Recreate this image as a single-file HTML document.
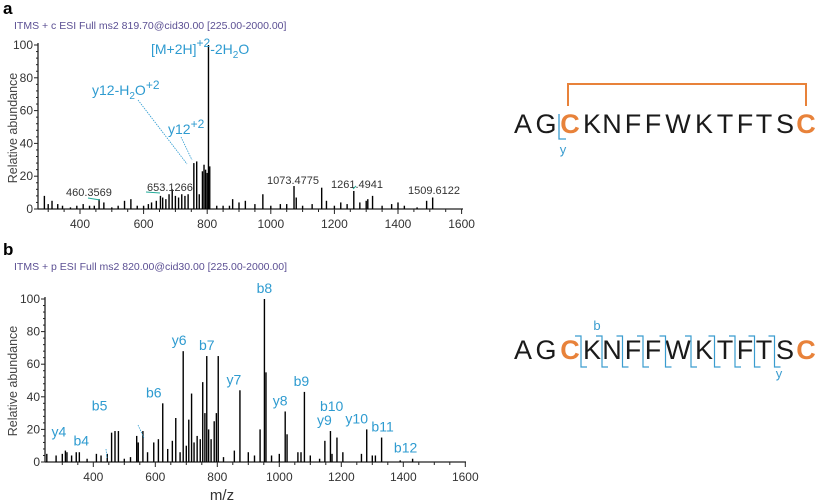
<!DOCTYPE html>
<html><head><meta charset="utf-8"><style>
body{margin:0;background:#fff}
svg{display:block;font-family:"Liberation Sans",sans-serif}
</style></head><body>
<svg id="fig" width="821" height="504" viewBox="0 0 821 504">
<text x="3" y="14" font-size="17" font-weight="bold" fill="#000">a</text>
<text x="14" y="29" font-size="10.5" fill="#5b4f93">ITMS + c ESI Full ms2 819.70@cid30.00 [225.00-2000.00]</text>
<text x="3" y="255" font-size="17" font-weight="bold" fill="#000">b</text>
<text x="14" y="270" font-size="10.5" fill="#5b4f93">ITMS + p ESI Full ms2 820.00@cid30.00 [225.00-2000.00]</text>
<text transform="translate(17,128) rotate(-90)" font-size="12.5" fill="#444" text-anchor="middle">Relative abundance</text>
<text transform="translate(17,381) rotate(-90)" font-size="12.5" fill="#444" text-anchor="middle">Relative abundance</text>
<g id="pa"></g>
<g id="pb"></g>
<text x="222" y="500" font-size="15" fill="#333" text-anchor="middle">m/z</text>

<g fill="#2e9bd0" font-size="14">
<text x="151" y="54">[M+2H]<tspan dy="-7" font-size="12">+2</tspan><tspan dy="7">-2H</tspan><tspan dy="4" font-size="10">2</tspan><tspan dy="-4">O</tspan></text>
<text x="92" y="95">y12-H<tspan dy="4" font-size="10">2</tspan><tspan dy="-4">O</tspan><tspan dy="-6" font-size="12">+2</tspan></text>
<text x="168" y="134">y12<tspan dy="-6" font-size="12">+2</tspan></text>
<line x1="138" y1="100" x2="187" y2="164" stroke="#2e9bd0" stroke-width="0.8" stroke-dasharray="1.5,1"/>
<line x1="181" y1="137" x2="192" y2="160" stroke="#2e9bd0" stroke-width="0.8" stroke-dasharray="1.5,1"/>
</g>
<g fill="#333" font-size="11">
<text x="66" y="196">460.3569</text>
<text x="147" y="191">653.1266</text>
<text x="267" y="184">1073.4775</text>
<text x="331" y="188">1261.4941</text>
<text x="408" y="194">1509.6122</text>
</g>
<g stroke="#2a9" stroke-width="1" fill="none"><line x1="88" y1="198" x2="100" y2="200"/><line x1="146" y1="192" x2="160" y2="193"/><line x1="353" y1="189" x2="356" y2="186"/></g>

<g id="seqa" font-size="27"></g>
<g id="seqb" font-size="27"></g>
<polyline points="568,106 568,84 806,84 806,106" fill="none" stroke="#e8823a" stroke-width="2"/>
<polyline points="559,114 559,139 566,139" fill="none" stroke="#3a9ccf" stroke-width="1.3"/>
<text x="563" y="154" font-size="13" fill="#3a9ccf" text-anchor="middle">y</text>
<g id="brk" fill="none" stroke="#3a9ccf" stroke-width="1.2"></g>
<text x="597" y="330" font-size="13" fill="#3a9ccf" text-anchor="middle">b</text>
<text x="779" y="378" font-size="13" fill="#3a9ccf" text-anchor="middle">y</text>
</svg>
<script>
const NS="http://www.w3.org/2000/svg";
const mzA=[288,300,312,330,345,370,390,410,430,445,460,475,500,520,540,560,580,600,615,625,640,653,660,670,680,690,700,710,720,730,740,758,767,775,785,790,795,800,804,808,830,850,870,880,900,920,950,975,1000,1030,1050,1073,1080,1100,1130,1160,1175,1200,1220,1240,1261,1280,1300,1305,1320,1350,1380,1400,1420,1460,1490,1509];
const intA=[8,3,5,3,2,1,2,3,2,2,6,4,1,2,5,6,2,2,3,4,5,8,7,6,9,12,8,7,9,8,9,28,29,9,23,27,24,22,100,26,2,2,2,6,4,5,3,9,2,3,3,14,7,2,3,13,5,2,4,3,11,4,5,6,8,2,3,4,2,1,5,7];
const mzB=[250,280,300,310,315,330,345,355,380,410,425,445,459,470,481,500,520,540,545,560,575,595,610,624,640,655,666,680,690,700,708,717,725,735,745,753,760,766,772,780,790,797,803,820,855,873,900,920,938,952,957,975,1000,1019,1025,1060,1070,1081,1100,1130,1147,1165,1170,1186,1205,1265,1282,1300,1310,1330,1390,1430];
const intB=[5,4,5,7,6,4,6,6,2,5,4,5,18,19,19,2,3,16,12,19,6,12,14,36,8,13,27,6,68,10,26,42,12,16,14,49,30,65,20,14,25,30,65,3,7,44,6,4,20,100,55,4,5,31,17,6,6,43,4,2,13,19,5,15,6,5,20,4,4,15,1,2];
const ticksX=[400,600,800,1000,1200,1400,1600];
const ticksY=[0,20,40,60,80,100];
const labelsB=["y4","b4","b5","b6","y6","b7","y7","b8","y8","b9","y9","b10","y10","b11","b12"];
const labelMzB=[315,345,459,624,690,766,873,952,1019,1081,1165,1172,1282,1330,1430];
const labelIntB=[7,7,18,36,68,65,44,100,31,43,19,19,20,15,2];

function mk(t,a,p){const e=document.createElementNS(NS,t);for(const k in a)e.setAttribute(k,a[k]);p.appendChild(e);return e;}
function panel(g,mz,it,ax){
  const X=m=>ax.x0+(m-400)*ax.k, Y=v=>ax.y0-(ax.y0-ax.y100)*v/100;
  const yax=mk('line',{x1:ax.left,y1:ax.y100-2,x2:ax.left,y2:ax.y0,stroke:'#222','stroke-width':1.3},g);
  
  
  const xax=mk('line',{x1:ax.left,y1:ax.y0,x2:ax.right,y2:ax.y0,stroke:'#222','stroke-width':1.3},g);
  
  
  for(let v=0;v<=100;v+=4){mk('line',{x1:ax.left-(v%20?2:4),y1:Y(v),x2:ax.left,y2:Y(v),stroke:'#222','stroke-width':1},g);}
  ticksY.forEach(v=>{const t=mk('text',{x:ax.left-5,y:Y(v)+4,'font-size':12,fill:'#333','text-anchor':'end'},g);t.textContent=v;
    
    });
  for(let m=300;m<=1600;m+=50){const x=X(m);if(x<ax.left||x>ax.right)continue;mk('line',{x1:x,y1:ax.y0,x2:x,y2:ax.y0+(m%200?3:5),stroke:'#222','stroke-width':1},g);}
  ticksX.forEach(m=>{const t=mk('text',{x:X(m),y:ax.y0+19,'font-size':12,fill:'#333','text-anchor':'middle'},g);t.textContent=m;
    
    });
  mz.forEach((m,i)=>{const l=mk('line',{x1:X(m),y1:ax.y0,x2:X(m),y2:Y(it[i]),stroke:'#000','stroke-width':1.4},g);
    
    });
  return {X,Y};
}
const A=panel(document.getElementById('pa'),mzA,intA,{x0:80,k:0.318,y0:209,y100:45,left:38,right:463});
const B=panel(document.getElementById('pb'),mzB,intB,{x0:93.3,k:0.310,y0:462,y100:299,left:45,right:466});
const gb=document.getElementById('pb');
const lx={"y4":-8,"b4":5,"b5":-12,"b6":-9,"y6":-4,"b7":0,"y7":-6,"b8":0,"y8":-5,"b9":-3,"y9":-6,"b10":-1,"y10":-10,"b11":1,"b12":-7};
const ly={"y4":-14,"b4":-5,"b5":-22,"b6":-6,"y6":-6,"b7":-6,"y7":-6,"b8":-6,"y8":-6,"b9":-6,"y9":-6,"b10":-20,"y10":-6,"b11":-6,"b12":-6};
labelsB.forEach((s,i)=>{const t=mk('text',{x:B.X(labelMzB[i])+lx[s],y:B.Y(labelIntB[i])+ly[s],'font-size':14,fill:'#2e9bd0','text-anchor':'middle'},gb);t.textContent=s;
  
  });
mk('line',{x1:106,y1:449,x2:107,y2:458,stroke:'#2e9bd0','stroke-width':0.8,'stroke-dasharray':'1.5,1'},gb);
mk('line',{x1:138,y1:425,x2:144,y2:438,stroke:'#2e9bd0','stroke-width':0.8,'stroke-dasharray':'1.5,1'},gb);
const seq="AGCKNFFWKTFTSC".split("");
const seqX=[523,546,570,592,612,633,653,678,704,725,745,764,785,806];
function drawSeq(id,by){const g=document.getElementById(id);
  seq.forEach((c,i)=>{const orange=(i==2||i==13);const t=mk('text',{x:seqX[i],y:by,'text-anchor':'middle',fill:orange?'#e8823a':'#1a1a1a','font-weight':orange?'bold':'normal'},g);t.textContent=c;
  
  });}
drawSeq('seqa',133);drawSeq('seqb',359);
const gk=document.getElementById('brk');
for(let i=2;i<12;i++){const x=(seqX[i]+seqX[i+1])/2;
  const p=mk('polyline',{points:`${x-6},336 ${x},336 ${x},367 ${x+6},367`},gk);
  
  }
</script>
</body></html>
